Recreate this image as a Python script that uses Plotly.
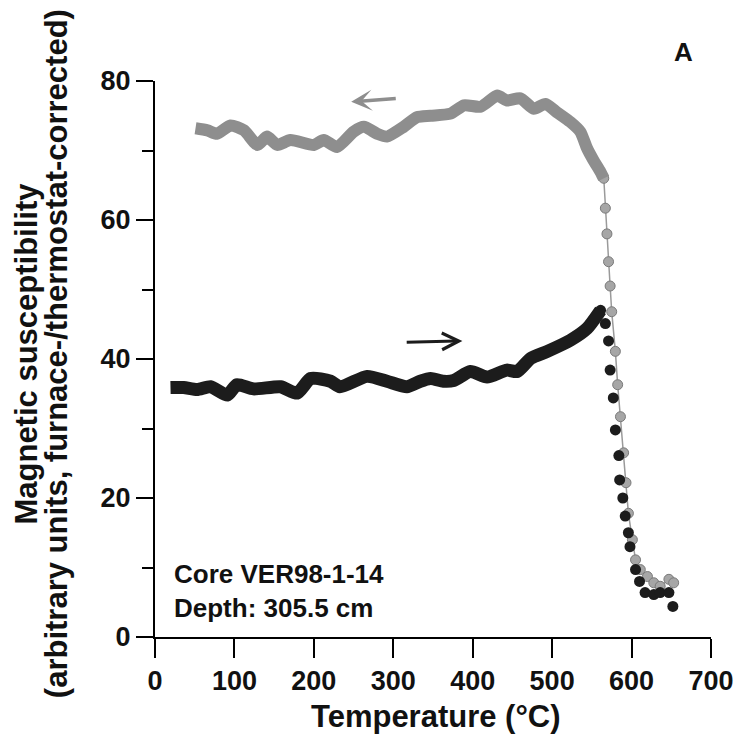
import plotly.graph_objects as go

# Heating curve (black) - dense part
heat_T = [19.5, 36, 53, 70, 91, 103, 124, 158, 179, 196, 221, 233, 267, 292, 317, 334,
          347, 363, 376, 397, 418, 443, 456, 473, 494, 523, 544, 561]
heat_v = [35.9, 35.9, 35.6, 36.0, 34.8, 36.3, 35.7, 36.0, 35.1, 37.2, 36.8, 36.0, 37.5, 36.8, 36.0, 36.8,
          37.2, 36.8, 36.9, 38.2, 37.4, 38.4, 38.2, 40.1, 41.1, 42.7, 44.4, 47.0]
# Heating curve - separate dots above ~565 C
heat_dot_T = [561, 567, 571, 573, 577, 579.6, 584, 585, 589, 592, 596, 598, 605, 610, 617, 628, 636, 647, 652]
heat_dot_v = [47.0, 45.1, 42.6, 38.4, 34.4, 29.8, 26.1, 22.6, 20.0, 17.4, 15.0, 13.0, 9.7, 8.0, 6.4, 6.1, 6.4, 6.4, 4.4]

# Cooling curve (grey) - dense part
cool_T = [51, 66, 78, 95, 112, 129, 141, 154, 170.5, 200, 212.5, 229, 250, 263, 280, 292, 313, 330,
          347, 372, 389, 410, 431, 443, 460, 477, 491.5, 506, 523, 535.5, 544, 552, 561, 565]
cool_v = [73.2, 72.9, 72.4, 73.6, 72.9, 70.8, 72.0, 70.8, 71.5, 70.8, 71.5, 70.5, 72.7, 73.4, 72.4, 72.0, 73.4, 74.8,
          75.0, 75.3, 76.5, 76.3, 77.9, 77.2, 77.5, 76.0, 76.7, 75.5, 74.1, 72.7, 70.3, 68.6, 66.9, 66.0]
# Cooling curve - separate dots
cool_dot_T = [565, 567, 569, 571, 573, 575, 579.6, 582.5, 586, 590, 593, 596, 601, 605, 611, 620, 628, 636, 647, 653]
cool_dot_v = [66.0, 61.7, 58.0, 54.0, 50.5, 46.8, 41.1, 36.3, 31.7, 26.5, 22.2, 17.8, 14.0, 11.1, 9.7, 8.7, 7.8, 7.3, 8.3, 7.8]

x_ticks = [0, 100, 200, 300, 400, 500, 600, 700]
y_ticks = [0, 20, 40, 60, 80]

BLACK = "#1c1c1c"
GREY = "#8e8e8e"
FONT = "Liberation Sans"

fig = go.Figure()
fig.add_trace(go.Scatter(x=cool_dot_T, y=cool_dot_v, mode="lines+markers",
                         line=dict(color="#9a9a9a", width=1.5),
                         marker=dict(size=10, color="#a6a6a6", line=dict(color="#7a7a7a", width=1)),
                         showlegend=False))
fig.add_trace(go.Scatter(x=cool_T, y=cool_v, mode="lines",
                         line=dict(color=GREY, width=12, shape="spline", smoothing=0.6),
                         showlegend=False))
fig.add_trace(go.Scatter(x=heat_dot_T, y=heat_dot_v, mode="markers",
                         marker=dict(size=11, color=BLACK),
                         showlegend=False))
fig.add_trace(go.Scatter(x=heat_T, y=heat_v, mode="lines",
                         line=dict(color=BLACK, width=13, shape="spline", smoothing=0.6),
                         showlegend=False))

tickfont = dict(family=FONT, size=27, color="#111", weight="bold")

fig.update_layout(
    width=741, height=736,
    margin=dict(l=154.5, r=30.3, t=80.7, b=98.5, autoexpand=False),
    paper_bgcolor="white", plot_bgcolor="white",
    xaxis=dict(range=[0, 700], tickvals=x_ticks, ticks="outside", ticklen=19, tickwidth=2,
               tickcolor="black", showline=True, linecolor="black", linewidth=2,
               showgrid=False, zeroline=False, tickfont=tickfont),
    yaxis=dict(range=[0, 80], tickvals=y_ticks, ticks="outside", ticklen=17, tickwidth=2,
               tickcolor="black", showline=True, linecolor="black", linewidth=2,
               showgrid=False, zeroline=False, tickfont=tickfont,
               minor=dict(dtick=10, ticks="outside", ticklen=11, tickwidth=2, tickcolor="black")),
)

fig.add_annotation(x=0.505, y=-0.1425, xref="paper", yref="paper", xanchor="center", yanchor="middle",
                   text="Temperature (°C)", showarrow=False,
                   font=dict(family=FONT, size=31, color="#111", weight="bold"))

ytitle_font = dict(family=FONT, size=31, color="#111", weight="bold")
fig.add_annotation(x=-0.231, y=0.509, xref="paper", yref="paper", xanchor="center", yanchor="middle",
                   text="Magnetic susceptibility", textangle=-90, showarrow=False, font=ytitle_font)
fig.add_annotation(x=-0.176, y=0.509, xref="paper", yref="paper", xanchor="center", yanchor="middle",
                   text="(arbitrary units, furnace-/thermostat-corrected)", textangle=-90,
                   showarrow=False, font=ytitle_font)

fig.add_annotation(x=247, y=77.0, ax=305, ay=77.5, xref="x", yref="y", axref="x", ayref="y",
                   text="", showarrow=True, arrowhead=3, arrowsize=1.0, arrowwidth=3.5, arrowcolor=GREY)
fig.add_annotation(x=387, y=42.6, ax=315, ay=42.4, xref="x", yref="y", axref="x", ayref="y",
                   text="", showarrow=True, arrowhead=5, arrowsize=1.1, arrowwidth=3, arrowcolor=BLACK)

note_font = dict(family=FONT, size=26, color="#111", weight="bold")
fig.add_annotation(x=21.6, y=9.1, xref="x", yref="y", xanchor="left", yanchor="middle",
                   text="Core VER98-1-14", showarrow=False, font=note_font)
fig.add_annotation(x=21.6, y=4.2, xref="x", yref="y", xanchor="left", yanchor="middle",
                   text="Depth: 305.5 cm", showarrow=False, font=note_font)
fig.add_annotation(x=0.950, y=1.0515, xref="paper", yref="paper", xanchor="center", yanchor="middle",
                   text="A", showarrow=False,
                   font=dict(family=FONT, size=26, color="#111", weight="bold"))

fig.write_html("out.html")
